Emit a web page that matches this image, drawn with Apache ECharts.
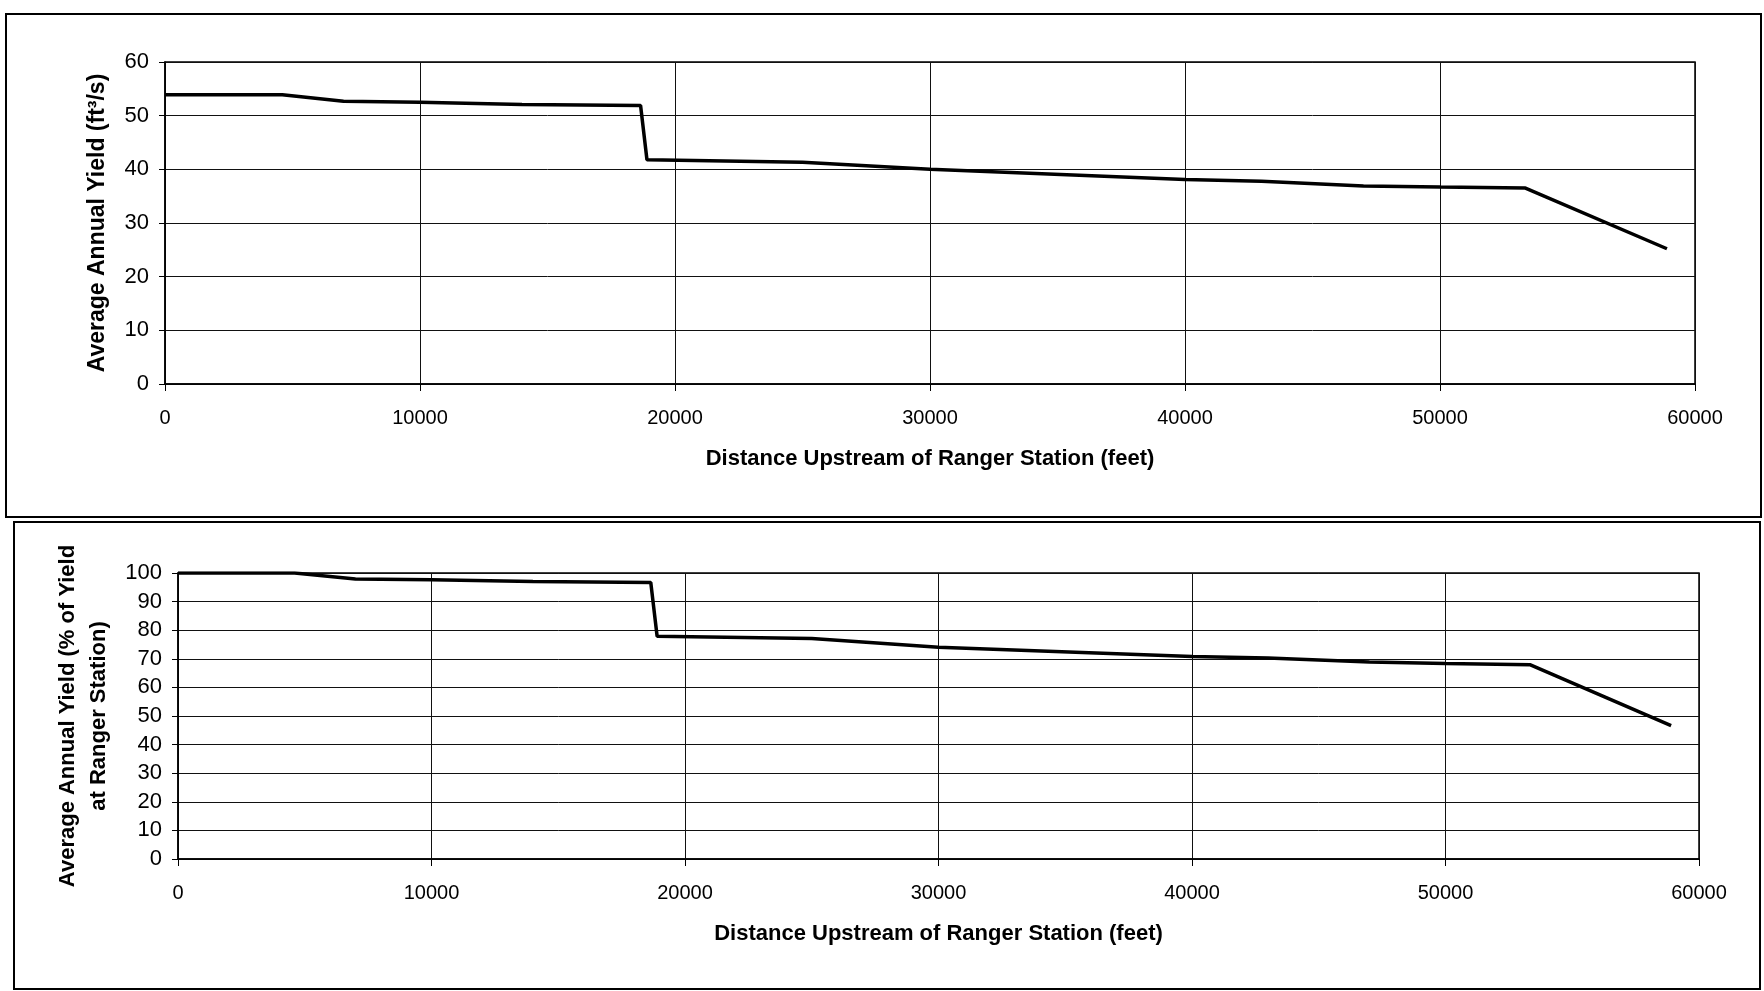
<!DOCTYPE html>
<html>
<head>
<meta charset="utf-8">
<script src="https://cdn.jsdelivr.net/npm/echarts@6/dist/echarts.min.js"></script>
<style>
html,body{margin:0;padding:0;background:#fff;}
#c{width:1764px;height:991px;}
</style>
</head>
<body>
<div id="c"></div>
<script>
// Distance upstream of ranger station (feet)
var distance = [0, 4600, 7000, 10000, 14000, 18650, 18900, 25000, 30000, 40000, 43000, 47000, 50000, 53350, 58900];
// Average annual yield (ft3/s)
var yieldCfs = [53.9, 53.9, 52.7, 52.5, 52.1, 51.9, 41.8, 41.3, 40.0, 38.1, 37.8, 36.9, 36.7, 36.5, 25.2];
// Average annual yield (% of yield at ranger station)
var yieldPct = [100, 100, 97.9, 97.6, 97.0, 96.7, 77.9, 77.1, 74.0, 70.8, 70.3, 68.9, 68.4, 67.9, 46.6];

var xTicks = [0, 10000, 20000, 30000, 40000, 50000, 60000];
var yTicksTop = [0, 10, 20, 30, 40, 50, 60];
var yTicksBottom = [0, 10, 20, 30, 40, 50, 60, 70, 80, 90, 100];

var xTitle = 'Distance Upstream of Ranger Station (feet)';
var yTitleTop = 'Average Annual Yield (ft\u00B3/s)';
var yTitleBottom = 'Average Annual Yield (% of Yield\nat Ranger Station)';

function pairs(xs, ys) { return xs.map(function (x, i) { return [x, ys[i]]; }); }

var sans = '"Liberation Sans", Arial, sans-serif';

function xAxis(gridIndex, gap) {
  return {
    type: 'value', gridIndex: gridIndex,
    min: xTicks[0], max: xTicks[xTicks.length - 1], interval: xTicks[1] - xTicks[0],
    name: xTitle, nameLocation: 'middle', nameGap: gap,
    nameTextStyle: { fontFamily: sans, fontWeight: 'bold', fontSize: 22, color: '#000' },
    axisLine: { show: true, lineStyle: { color: '#000', width: 1.5 } },
    axisTick: { show: true, length: 7, inside: false, lineStyle: { color: '#000', width: 1 } },
    axisLabel: { fontFamily: sans, fontSize: 20, color: '#000', margin: 24,
      formatter: function (v) { return String(v); } },
    splitLine: { show: true, lineStyle: { color: '#111', width: 1 } }
  };
}
function yAxis(gridIndex, ticks, title, gap, fs, lh) {
  return {
    type: 'value', gridIndex: gridIndex,
    min: ticks[0], max: ticks[ticks.length - 1], interval: ticks[1] - ticks[0],
    name: title, nameLocation: 'middle', nameGap: gap,
    nameTextStyle: { fontFamily: sans, fontWeight: 'bold', fontSize: fs, color: '#000', lineHeight: lh, align: 'center' },
    axisLine: { show: true, lineStyle: { color: '#000', width: 1.5 } },
    axisTick: { show: true, length: 6, inside: false, lineStyle: { color: '#000', width: 1 } },
    axisLabel: { fontFamily: sans, fontSize: 22, color: '#000', margin: 16 },
    splitLine: { show: true, lineStyle: { color: '#111', width: 1 } }
  };
}

var chart = echarts.init(document.getElementById('c'), null, { renderer: 'canvas' });
chart.setOption({
  backgroundColor: '#fff',
  animation: false,
  graphic: [
    { type: 'rect', shape: { x: 6, y: 14, width: 1755, height: 503 }, style: { fill: 'none', stroke: '#000', lineWidth: 2 }, z: -1 },
    { type: 'rect', shape: { x: 14, y: 522, width: 1746, height: 467 }, style: { fill: 'none', stroke: '#000', lineWidth: 2 }, z: -1 }
  ],
  grid: [
    { left: 165, top: 62, width: 1530, height: 322, show: true, borderColor: '#000', borderWidth: 1.5, backgroundColor: 'transparent' },
    { left: 178, top: 573, width: 1521, height: 286, show: true, borderColor: '#000', borderWidth: 1.5, backgroundColor: 'transparent' }
  ],
  xAxis: [xAxis(0, 64), xAxis(1, 64)],
  yAxis: [
    yAxis(0, yTicksTop, yTitleTop, 53, 23, 28),
    yAxis(1, yTicksBottom, yTitleBottom, 62, 22, 31)
  ],
  series: [
    { type: 'line', xAxisIndex: 0, yAxisIndex: 0, data: pairs(distance, yieldCfs), showSymbol: false, symbol: 'none',
      lineStyle: { color: '#000', width: 3.5 }, z: 5 },
    { type: 'line', xAxisIndex: 1, yAxisIndex: 1, data: pairs(distance, yieldPct), showSymbol: false, symbol: 'none',
      lineStyle: { color: '#000', width: 3.5 }, z: 5 }
  ]
});
</script>
</body>
</html>
